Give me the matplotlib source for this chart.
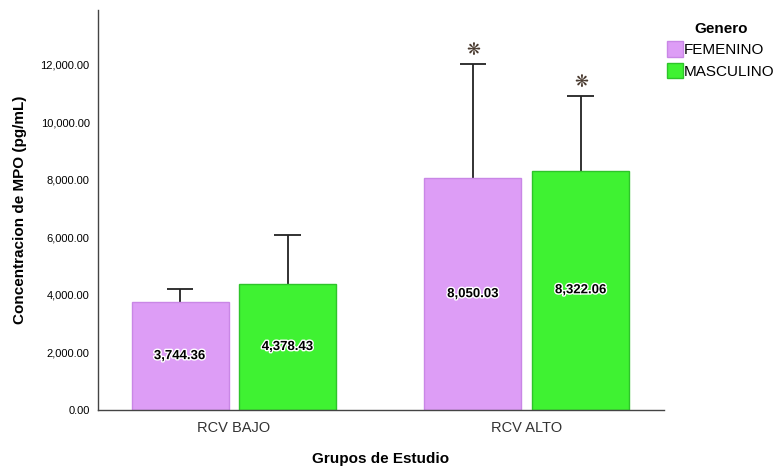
import matplotlib.pyplot as plt
import matplotlib.patheffects as pe
from matplotlib.ticker import FuncFormatter
import numpy as np

plt.rcParams['font.family'] = ['Liberation Sans', 'DejaVu Sans']

groups = ["RCV BAJO", "RCV ALTO"]
femenino = [3744.36, 8050.03]
masculino = [4378.43, 8322.06]
femenino_top = [4210, 12030]
masculino_top = [6090, 10920]
significant_f = [False, True]
significant_m = [False, True]

fem_color = "#DD9DF6"
fem_edge = "#C987E6"
mas_color = "#3FF232"
mas_edge = "#2EC42A"

fig = plt.figure(figsize=(7.82, 4.71), dpi=100)
ax = fig.add_axes([0.1253, 0.1295, 0.7238, 0.8493])

x = np.arange(len(groups))
w = 0.331
off = 0.184
cap = 0.046

series = [
    ("FEMENINO", femenino, femenino_top, significant_f, fem_color, fem_edge, -off),
    ("MASCULINO", masculino, masculino_top, significant_m, mas_color, mas_edge, off),
]

for name, vals, tops, sig, col, edge, dx in series:
    pos = x + dx
    ax.bar(pos, vals, width=w, color=col, edgecolor=edge, linewidth=1, label=name, zorder=2)
    # upper error bar only
    ax.vlines(pos, vals, tops, color="#222222", linewidth=1.3, zorder=1)
    ax.hlines(tops, pos - cap, pos + cap, color="#222222", linewidth=1.3, zorder=1)
    for p, v, t, s in zip(pos, vals, tops, sig):
        ax.text(p, v / 2, f"{v:,.2f}", ha="center", va="center", fontsize=9.5,
                fontweight="bold", color="black", zorder=4,
                path_effects=[pe.withStroke(linewidth=2, foreground="white")])
        if s:
            ax.text(p, t + 180, "❋", ha="center", va="bottom", fontsize=12,
                    color="#4a3b30", family=["DejaVu Sans"], zorder=4)

ax.set_xlim(-0.464, 1.468)
ax.set_ylim(0, 13900)
ax.set_yticks(np.arange(0, 12001, 2000))
ax.yaxis.set_major_formatter(FuncFormatter(lambda v, _: f"{v:,.2f}"))
ax.set_xticks(x)
ax.set_xticklabels(groups, fontsize=10.5, color="#333333")
ax.tick_params(axis="y", length=0, labelsize=8, pad=6)
ax.tick_params(axis="x", length=0, pad=8)

for s in ["top", "right"]:
    ax.spines[s].set_visible(False)
for s in ["left", "bottom"]:
    ax.spines[s].set_color("#444444")
    ax.spines[s].set_linewidth(1)

ax.set_ylabel("Concentracion de MPO (pg/mL)", fontsize=11, fontweight="bold", labelpad=10)
ax.set_xlabel("Grupos de Estudio", fontsize=11, fontweight="bold", labelpad=12)

leg = ax.legend(title="Genero", loc="upper left", bbox_to_anchor=(0.995, 0.985),
                frameon=False, fontsize=11, handlelength=1.0, handleheight=1.2,
                handletextpad=0.1, labelspacing=0.35, borderaxespad=0)
leg.get_title().set_fontweight("bold")
leg.get_title().set_fontsize(11)

fig.savefig("out.png", dpi=100)
